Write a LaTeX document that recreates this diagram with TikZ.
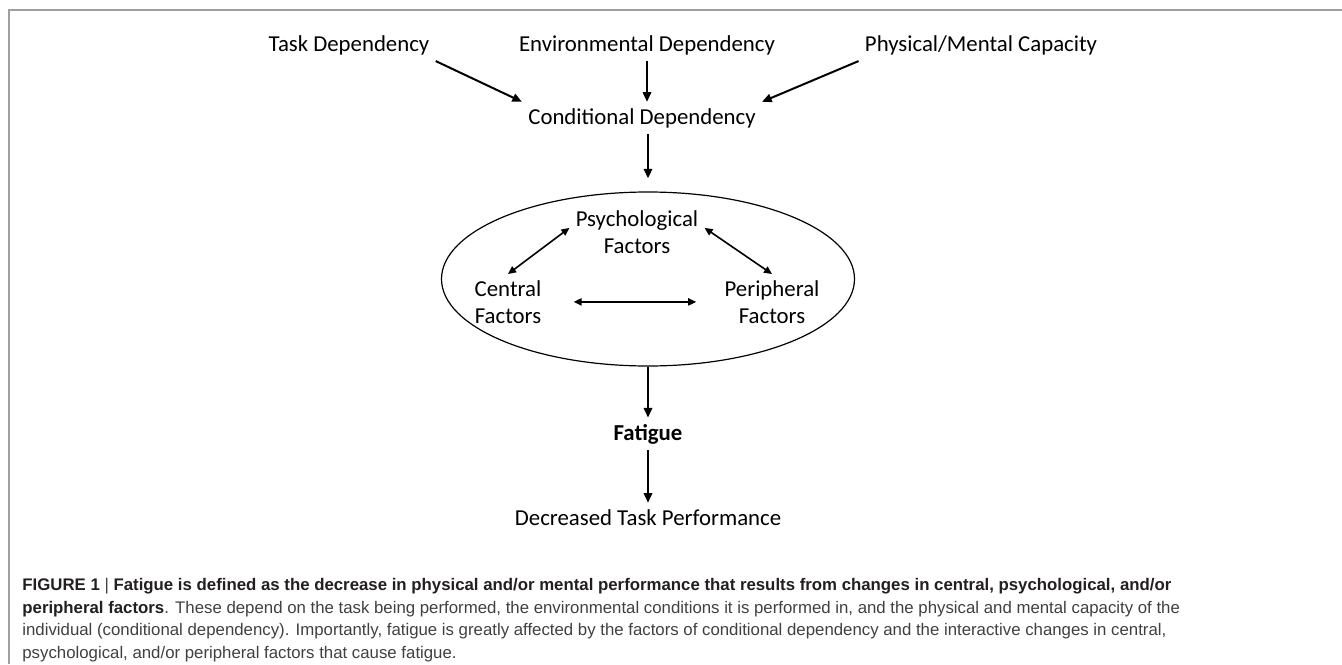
\documentclass[tikz,border=0pt]{standalone}
\usepackage{fontspec}
\setmainfont{Carlito}
\newfontfamily\capfont{Liberation Sans}
\usetikzlibrary{arrows.meta,shapes.geometric}
\definecolor{framegray}{HTML}{A0A0A0}
\definecolor{capgray}{HTML}{404040}
\definecolor{capdark}{HTML}{231F20}

\begin{document}
\begin{tikzpicture}[x=0.5pt, y=-0.5pt,
  term/.style={inner sep=3pt, anchor=base, font=\fontsize{11.4}{13.5}\selectfont},
  pair/.style={inner sep=3pt, anchor=north, align=center, font=\fontsize{11.4}{13.5}\selectfont},
  link/.style={line width=1pt, -{Triangle[length=4.8pt, width=4.2pt]}},
  twoway/.style={line width=0.8pt, {Triangle[length=4pt, width=3.6pt]}-{Triangle[length=4pt, width=3.6pt]}}]
  \useasboundingbox (0,0) rectangle (1342,664);
  \draw[framegray, line width=0.8pt] (9,664) -- (9,10) -- (1342,10);

  \node (task-dep) [term] at (349, 51) {Task Dependency};
  \node (env-dep) [term] at (647, 51) {Environmental Dependency};
  \node (capacity) [term] at (981, 51) {Physical/Mental Capacity};
  \node (cond-dep) [term] at (642, 124) {Conditional Dependency};

  \node (factors) [draw, ellipse, line width=0.6pt, inner sep=0pt, minimum width=206.5pt, minimum height=87pt] at (648, 279) {};
  \node (psych) [pair] at (637, 204) {Psychological\\Factors};
  \node (central) [pair] at (508, 274) {Central\\Factors};
  \node (peripheral) [pair] at (772, 274) {Peripheral\\Factors};

  \node (fatigue) [term, font=\fontsize{11.4}{13.5}\selectfont\bfseries] at (648, 440) {Fatigue};
  \node (performance) [term] at (648, 525) {Decreased Task Performance};

  \draw[link] (task-dep.south east) -- (cond-dep.north west);
  \draw[link] (env-dep.south) -- (env-dep.south |- cond-dep.north);
  \draw[link] (capacity.south west) -- (cond-dep.north east);
  \draw[link, shorten >=6.5pt] (factors.north |- cond-dep.south) -- (factors.north);

  \draw[twoway] (central.north) -- ([yshift=2pt]psych.west);
  \draw[twoway] ([yshift=2pt]psych.east) -- (peripheral.north);
  \draw[twoway, shorten <=13pt, shorten >=11pt] (central.east) -- (peripheral.west);

  \draw[link] (factors.south) -- (fatigue.north);
  \draw[link] (fatigue.south) -- (performance.north);

  \node (caption) [anchor=north west, inner sep=0pt, align=left, text=capgray,
    font=\capfont\fontsize{8.4}{11.25}\selectfont] at (22, 578)
    {\textcolor{capdark}{\bfseries FIGURE 1} | \textcolor{capdark}{\bfseries Fatigue is defined as the decrease in physical and/or mental performance that results from changes in central, psychological, and/or}\\
     \textcolor{capdark}{\bfseries peripheral factors}. These depend on the task being performed, the environmental conditions it is performed in, and the physical and mental capacity of the\\
     individual (conditional dependency). Importantly, fatigue is greatly affected by the factors of conditional dependency and the interactive changes in central,\\
     psychological, and/or peripheral factors that cause fatigue.};
\end{tikzpicture}
\end{document}
